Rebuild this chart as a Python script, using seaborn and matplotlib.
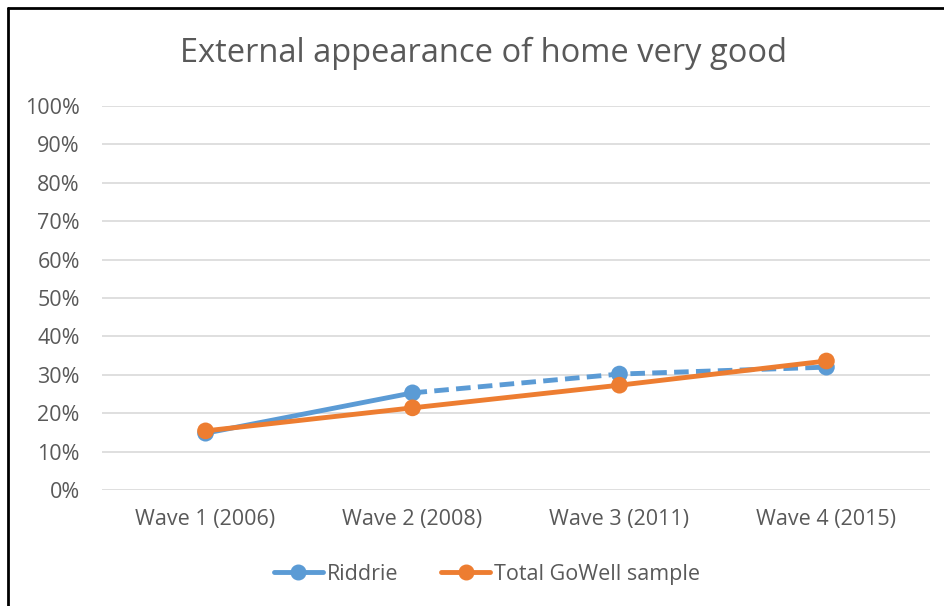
import matplotlib
matplotlib.use('Agg')
import matplotlib.pyplot as plt
import pandas as pd
import seaborn as sns
from matplotlib.lines import Line2D
from matplotlib.ticker import PercentFormatter

# Data
waves = ['Wave 1 (2006)', 'Wave 2 (2008)', 'Wave 3 (2011)', 'Wave 4 (2015)']
riddrie = [14.8, 25.3, 30.2, 32.0]
gowell = [15.4, 21.4, 27.3, 33.6]

blue = '#5B9BD5'
orange = '#ED7D31'
grey = '#595959'

sns.set_style('white')
plt.rcParams['font.family'] = ['Open Sans', 'DejaVu Sans']

df = pd.DataFrame({'wave': range(len(waves)), 'Riddrie': riddrie, 'Total GoWell sample': gowell})

fig = plt.figure(figsize=(9.45, 6.06), dpi=100)
ax = fig.add_axes([0.108, 0.1914, 0.876, 0.6336])

# Riddrie: solid first segment, dashed afterwards
sns.lineplot(data=df.iloc[:2], x='wave', y='Riddrie', ax=ax, color=blue, lw=3.5, zorder=3)
sns.lineplot(data=df.iloc[1:], x='wave', y='Riddrie', ax=ax, color=blue, lw=3.5,
             linestyle=(0, (3, 1.5)), zorder=3)
sns.scatterplot(data=df, x='wave', y='Riddrie', ax=ax, color=blue, s=145,
                edgecolor='none', zorder=4)
sns.lineplot(data=df, x='wave', y='Total GoWell sample', ax=ax, color=orange, lw=3.5, zorder=5)
sns.scatterplot(data=df, x='wave', y='Total GoWell sample', ax=ax, color=orange, s=145,
                edgecolor='none', zorder=6)

ax.set_xlim(-0.5, len(waves) - 0.5)
ax.set_ylim(0, 100)
ax.set_yticks(range(0, 101, 10))
ax.yaxis.set_major_formatter(PercentFormatter(decimals=0))
ax.set_xticks(range(len(waves)))
ax.set_xticklabels(waves)
ax.tick_params(axis='both', length=0, labelsize=15.5, colors=grey)
ax.tick_params(axis='x', pad=14)
ax.tick_params(axis='y', pad=16)
ax.grid(axis='y', color='#D9D9D9', lw=1.2)
ax.set_axisbelow(True)
for s in ax.spines.values():
    s.set_visible(False)
ax.set_xlabel('')
ax.set_ylabel('')

fig.text(0.512, 0.912, 'External appearance of home very good', ha='center', va='center',
         fontsize=23.5, color=grey)

handles = [Line2D([], [], color=blue, lw=3.5, marker='o', markersize=10.5),
           Line2D([], [], color=orange, lw=3.5, marker='o', markersize=10.5)]
fig.legend(handles, ['Riddrie', 'Total GoWell sample'], loc='center', ncol=2,
           bbox_to_anchor=(0.515, 0.052), frameon=False, fontsize=15.5, labelcolor=grey,
           handlelength=2.3, handletextpad=0.15, columnspacing=2.0)

# chart frame (top and left edges visible in the crop)
fig.add_artist(Line2D([0.0085, 1.0], [0.987, 0.987], color='black', lw=2, transform=fig.transFigure))
fig.add_artist(Line2D([0.0085, 0.0085], [0.0, 0.987], color='black', lw=2, transform=fig.transFigure))

fig.savefig('out.png', dpi=100)
